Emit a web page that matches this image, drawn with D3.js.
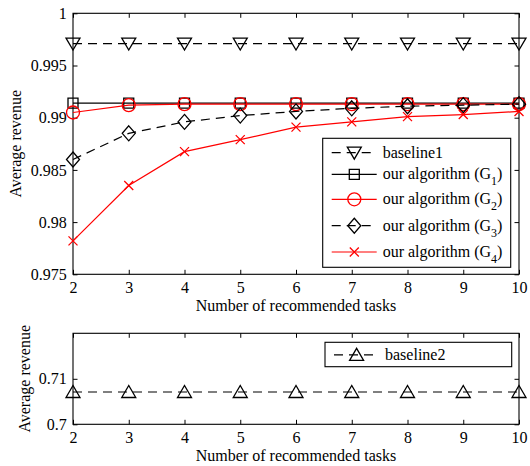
<!DOCTYPE html>
<html><head><meta charset="utf-8">
<script src="https://cdn.jsdelivr.net/npm/d3@7"></script>
<style>
body{margin:0;background:#fff}
text{font-family:"Liberation Serif","Times New Roman",serif;font-size:16px;fill:#000}
</style>
</head><body><svg id="c" width="530" height="466" font-family="Liberation Serif" font-size="16"></svg>
<script>
// ---- data ----
const tasks = [2, 3, 4, 5, 6, 7, 8, 9, 10];
const baseline1 = [0.9971, 0.9971, 0.9971, 0.9971, 0.9971, 0.9971, 0.9971, 0.9971, 0.9971];
const G1 = [0.9914, 0.9914, 0.9914, 0.9914, 0.9914, 0.9914, 0.9914, 0.9914, 0.9914];
const G2 = [0.9905, 0.9912, 0.9913, 0.9913, 0.9913, 0.9913, 0.9913, 0.9913, 0.9913];
const G3 = [0.9860, 0.9885, 0.9896, 0.9902, 0.9906, 0.9909, 0.9911, 0.9912, 0.9913];
const G4 = [0.9782, 0.9835, 0.98675, 0.9879, 0.9891, 0.9896, 0.9901, 0.9903, 0.9906];
const baseline2 = [0.7071, 0.7071, 0.7071, 0.7071, 0.7071, 0.7071, 0.7071, 0.7071, 0.7071];
const topYTicks = [0.975, 0.98, 0.985, 0.99, 0.995, 1];
const topYTickLabels = ["0.975", "0.98", "0.985", "0.99", "0.995", "1"];
const botYTicks = [0.7, 0.71];
const botYTickLabels = ["0.7", "0.71"];
const xTickLabels = ["2", "3", "4", "5", "6", "7", "8", "9", "10"];
const xLabel = "Number of recommended tasks";
const yLabel = "Average revenue";

const topSeries = [
  {name: "baseline1", sub: null, values: baseline1, color: "#000", dashed: true, marker: "tdown"},
  {name: "our algorithm (G", sub: "1", values: G1, color: "#000", dashed: false, marker: "square"},
  {name: "our algorithm (G", sub: "2", values: G2, color: "#ff0000", dashed: false, marker: "circle"},
  {name: "our algorithm (G", sub: "3", values: G3, color: "#000", dashed: true, marker: "diamond"},
  {name: "our algorithm (G", sub: "4", values: G4, color: "#ff0000", dashed: false, marker: "x"}
];
const botSeries = [
  {name: "baseline2", sub: null, values: baseline2, color: "#000", dashed: true, marker: "tup"}
];

// ---- drawing ----
const svg = d3.select("#c");
const FONT = '"Liberation Serif","Times New Roman",serif';
const DASH = "9,6";

function markerPath(type) {
  switch (type) {
    case "tdown": return "M-7,-5.5L7,-5.5L0,6.5Z";
    case "tup": return "M-7,5.5L7,5.5L0,-6.5Z";
    case "square": return "M-5,-5H5V5H-5Z";
    case "circle": return "M6.5,0A6.5,6.5 0 1,1 -6.5,0A6.5,6.5 0 1,1 6.5,0Z";
    case "diamond": return "M0,-7.5L6.5,0L0,7.5L-6.5,0Z";
    case "x": return "M-4.5,-4.5L4.5,4.5M-4.5,4.5L4.5,-4.5";
  }
}

function drawPanel(cfg) {
  const {left, right, top, bottom, yDomain, yTicks, yTickLabels, series, labelX, legend} = cfg;
  const x = d3.scaleLinear().domain([2, 10]).range([left, right]);
  const y = d3.scaleLinear().domain(yDomain).range([bottom, top]);
  const g = svg.append("g");

  const ax = (sel) => sel.attr("font-family", FONT).attr("font-size", 16)
    .call(s => s.select(".domain").remove())
    .call(s => s.selectAll("line").attr("stroke", "#000"))
    .call(s => s.selectAll("text").attr("fill", "#000").attr("font-family", FONT).attr("font-size", 16));

  g.append("g").attr("transform", `translate(0,${bottom})`)
    .call(d3.axisBottom(x).tickValues(tasks).tickFormat((d, i) => xTickLabels[i])
      .tickSizeInner(-4.5).tickSizeOuter(0).tickPadding(7.5)).call(ax);
  g.append("g").attr("transform", `translate(0,${top})`)
    .call(d3.axisTop(x).tickValues(tasks).tickFormat("")
      .tickSizeInner(-4.5).tickSizeOuter(0)).call(ax);
  g.append("g").attr("transform", `translate(${left},0)`)
    .call(d3.axisLeft(y).tickValues(yTicks).tickFormat((d, i) => yTickLabels[i])
      .tickSizeInner(-4.5).tickSizeOuter(0).tickPadding(6.3)).call(ax);
  g.append("g").attr("transform", `translate(${right},0)`)
    .call(d3.axisRight(y).tickValues(yTicks).tickFormat("")
      .tickSizeInner(-4.5).tickSizeOuter(0)).call(ax);

  g.append("rect").attr("x", left).attr("y", top).attr("width", right - left).attr("height", bottom - top)
    .attr("fill", "none").attr("stroke", "#000").attr("stroke-width", 1.1);

  const line = d3.line().x((d, i) => x(tasks[i])).y(d => y(d));
  series.forEach(s => {
    g.append("path").datum(s.values).attr("d", line).attr("fill", "none")
      .attr("stroke", s.color).attr("stroke-width", 1.2)
      .attr("stroke-dasharray", s.dashed ? DASH : null);
    g.selectAll(null).data(s.values).enter().append("path")
      .attr("transform", (d, i) => `translate(${x(tasks[i])},${y(d)})`)
      .attr("d", markerPath(s.marker)).attr("fill", "none")
      .attr("stroke", s.color).attr("stroke-width", 1.3);
  });

  // axis labels
  g.append("text").attr("x", (left + right) / 2).attr("y", bottom + 37)
    .attr("font-family", FONT).attr("font-size", 16)
    .attr("text-anchor", "middle").text(xLabel);
  g.append("text").attr("transform", `translate(${labelX},${(top + bottom) / 2}) rotate(-90)`)
    .attr("font-family", FONT).attr("font-size", 16)
    .attr("text-anchor", "middle").text(yLabel);

  // legend
  const lg = g.append("g");
  lg.append("rect").attr("x", legend.x).attr("y", legend.y).attr("width", legend.w).attr("height", legend.h)
    .attr("fill", "#fff").attr("stroke", "#000").attr("stroke-width", 1.1);
  series.forEach((s, i) => {
    const cy = legend.y + legend.rows[i];
    const x0 = legend.x + 9, x1 = legend.x + 54, xm = legend.x + 31.6;
    lg.append("path").attr("d", `M${x0},${cy}L${x1},${cy}`).attr("stroke", s.color)
      .attr("stroke-width", 1.2).attr("stroke-dasharray", s.dashed ? DASH : null);
    lg.append("path").attr("transform", `translate(${xm},${cy})`).attr("d", markerPath(s.marker))
      .attr("fill", "none").attr("stroke", s.color).attr("stroke-width", 1.3);
    const t = lg.append("text").attr("x", legend.x + 60).attr("y", cy + 5)
      .attr("font-family", FONT).attr("font-size", 16);
    t.append("tspan").text(s.name);
    if (s.sub) {
      t.append("tspan").attr("dy", 6).attr("font-size", 12).style("font-size", "12px").text(s.sub);
      t.append("tspan").attr("dy", -6).text(")");
    }
  });
}

drawPanel({
  left: 73, right: 519, top: 13.3, bottom: 274.3,
  yDomain: [0.975, 1], yTicks: topYTicks, yTickLabels: topYTickLabels,
  series: topSeries, labelX: 21,
  legend: {x: 322.7, y: 138.3, w: 188, h: 129, rows: [14.4, 36, 61, 87.4, 113.7]}
});
drawPanel({
  left: 73, right: 519, top: 333.3, bottom: 424.3,
  yDomain: [0.7, 0.72], yTicks: botYTicks, yTickLabels: botYTickLabels,
  series: botSeries, labelX: 30,
  legend: {x: 325, y: 342.3, w: 186.7, h: 24.4, rows: [12.5]}
});
</script>
</body></html>
